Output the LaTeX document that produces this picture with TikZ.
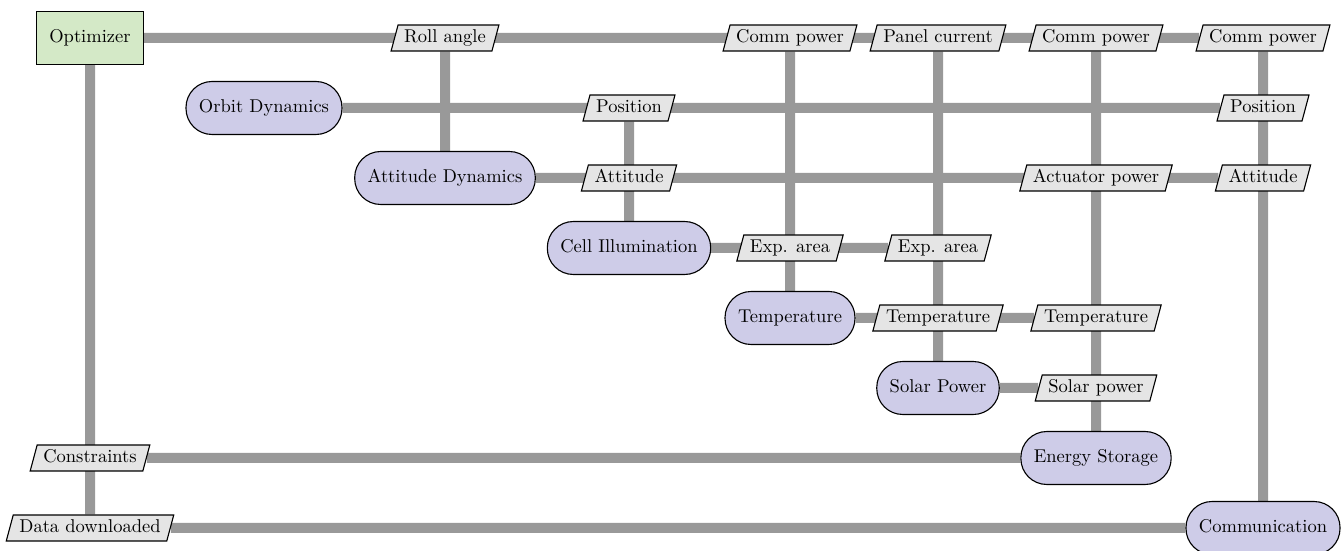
\documentclass[tikz,border=0pt]{standalone}
\usepackage{tikz}
\usetikzlibrary{shapes.geometric, backgrounds}

\definecolor{optfill}{RGB}{212,233,199}
\definecolor{funcfill}{RGB}{206,204,232}

\begin{document}
\begin{tikzpicture}[
                x=0.54pt, y=-0.54pt, % one unit is one pixel of the layout
                every node/.style={semithick, text height=6.9pt, text depth=1.9pt}, % same baseline in all boxes
                optimizer/.style={rectangle, draw, fill=optfill, minimum height=28.6pt, inner xsep=7pt}, % Optimizer block
                func/.style={rectangle, rounded corners=14pt, draw, fill=funcfill, minimum height=28.6pt, inner xsep=7pt}, % Analysis blocks
                datanode/.style={trapezium, trapezium left angle=75, trapezium right angle=105, draw, fill=black!10, inner ysep=2.6pt}, % Data blocks
                dataline/.style={line width=5.4pt, black!40} % Connectors
                ]
                \useasboundingbox (0,0) rectangle (1343,551);

                % diagonal
                \node[optimizer] (opt) at (90,38) {Optimizer};
                \node[func] (orbit) at (264,108) {Orbit Dynamics};
                \node[func] (attdyn) at (445,178) {Attitude Dynamics};
                \node[func] (cell) at (629,248) {Cell Illumination};
                \node[func] (temp) at (790,318) {Temperature};
                \node[func] (solar) at (938,388) {Solar Power};
                \node[func] (energy) at (1096,458) {Energy Storage};
                \node[func] (comm) at (1263,528) {Communication};

                % data
                \node[datanode] (roll) at (445,38) {Roll angle};
                \node[datanode] (commpowA) at (790,38) {Comm power};
                \node[datanode] (panel) at (938,38) {Panel current};
                \node[datanode] (commpowB) at (1096,38) {Comm power};
                \node[datanode] (commpowC) at (1263,38) {Comm power};
                \node[datanode] (posA) at (629,108) {Position};
                \node[datanode] (posB) at (1263,108) {Position};
                \node[datanode] (attA) at (629,178) {Attitude};
                \node[datanode] (actpow) at (1096,178) {Actuator power};
                \node[datanode] (attB) at (1263,178) {Attitude};
                \node[datanode] (areaA) at (790,248) {Exp. area};
                \node[datanode] (areaB) at (938,248) {Exp. area};
                \node[datanode] (tempA) at (938,318) {Temperature};
                \node[datanode] (tempB) at (1096,318) {Temperature};
                \node[datanode] (solarpow) at (1096,388) {Solar power};
                \node[datanode] (constr) at (90,458) {Constraints};
                \node[datanode] (datadown) at (90,528) {Data downloaded};

                \begin{scope}[on background layer]
                    % horizontal
                    \draw[dataline] (opt) -- (commpowC);
                    \draw[dataline] (orbit) -- (posB);
                    \draw[dataline] (attdyn) -- (attB);
                    \draw[dataline] (cell) -- (areaB);
                    \draw[dataline] (temp) -- (tempB);
                    \draw[dataline] (solar) -- (solarpow);
                    \draw[dataline] (constr) -- (energy);
                    \draw[dataline] (datadown) -- (comm);
                    % vertical
                    \draw[dataline] (opt) -- (datadown);
                    \draw[dataline] (roll) -- (attdyn);
                    \draw[dataline] (posA) -- (cell);
                    \draw[dataline] (commpowA) -- (temp);
                    \draw[dataline] (panel) -- (solar);
                    \draw[dataline] (commpowB) -- (energy);
                    \draw[dataline] (commpowC) -- (comm);
                \end{scope}
            \end{tikzpicture}
\end{document}
